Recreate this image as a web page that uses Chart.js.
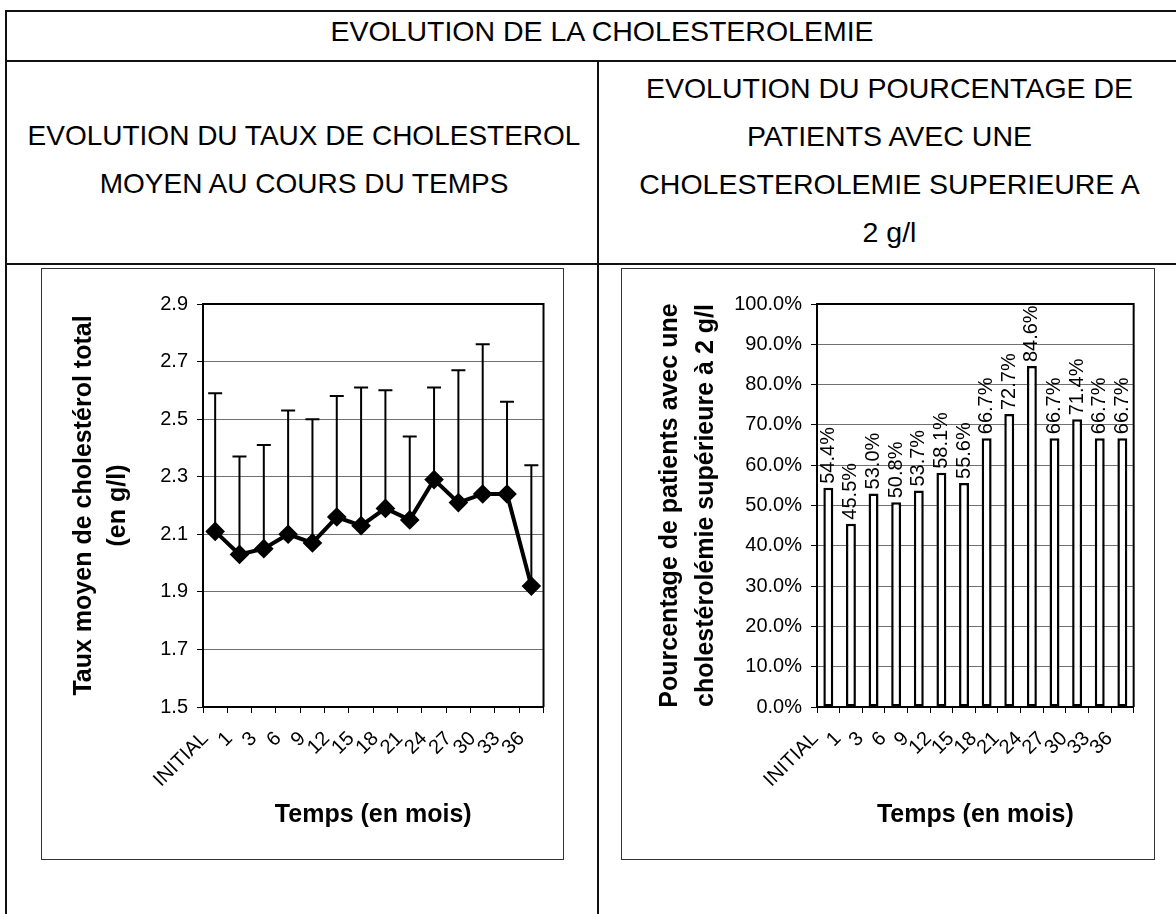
<!DOCTYPE html>
<html lang="fr">
<head>
<meta charset="utf-8">
<title>Evolution de la cholestérolémie</title>
<script src="https://cdn.jsdelivr.net/npm/chart.js@4.4.1/dist/chart.umd.min.js"></script>
<style>
  html, body { margin: 0; padding: 0; background: #fff; }
  body {
    width: 1176px; height: 914px; position: relative; overflow: hidden;
    font-family: "Liberation Sans", Arial, sans-serif; color: #000;
  }
  .rule { position: absolute; background: #111; }
  .cell-text { position: absolute; text-align: center; font-size: 28.5px; line-height: 48px; white-space: nowrap; }
  .frame { position: absolute; border: 1px solid #333; box-sizing: border-box; }
  .frame canvas { position: absolute; left: 0; top: 0; }
</style>
</head>
<body>
  <!-- table rules -->
  <div class="rule" style="left:5px; top:10px; width:1171px; height:2px"></div>
  <div class="rule" style="left:5px; top:60px; width:1171px; height:2px"></div>
  <div class="rule" style="left:5px; top:263px; width:1171px; height:2px"></div>
  <div class="rule" style="left:5px; top:10px; width:2px; height:904px"></div>
  <div class="rule" style="left:597px; top:60px; width:2px; height:854px"></div>

  <div class="cell-text" style="left:18px; top:12px; width:1168px; line-height:38px">EVOLUTION DE LA CHOLESTEROLEMIE</div>
  <div class="cell-text" style="left:9px; top:112px; width:590px; font-size:28px">EVOLUTION DU TAUX DE CHOLESTEROL<br>MOYEN AU COURS DU TEMPS</div>
  <div class="cell-text" style="left:601px; top:64px; width:577px">EVOLUTION DU POURCENTAGE DE<br>PATIENTS AVEC UNE<br>CHOLESTEROLEMIE SUPERIEURE A<br>2 g/l</div>

  <div class="frame" style="left:41px; top:268px; width:523px; height:592px">
    <canvas id="meanChart" width="521" height="590"></canvas>
  </div>
  <div class="frame" style="left:621px; top:268px; width:534px; height:592px">
    <canvas id="pctChart" width="532" height="590"></canvas>
  </div>

<script>
// time points (months)
const months = ['INITIAL', '1', '3', '6', '9', '12', '15', '18', '21', '24', '27', '30', '33', '36'];

// mean total cholesterol (g/l) and mean + SD (top of the error bar)
const meanLevel = [2.11, 2.03, 2.05, 2.10, 2.07, 2.16, 2.13, 2.19, 2.15, 2.29, 2.21, 2.24, 2.24, 1.92];
const meanPlusSd = [2.59, 2.37, 2.41, 2.53, 2.50, 2.58, 2.61, 2.60, 2.44, 2.61, 2.67, 2.76, 2.56, 2.34];

// % of patients above 2 g/l
const pctAbove2 = [54.4, 45.5, 53.0, 50.8, 53.7, 58.1, 55.6, 66.7, 72.7, 84.6, 66.7, 71.4, 66.7, 66.7];

const levelTicks = [1.5, 1.7, 1.9, 2.1, 2.3, 2.5, 2.7, 2.9];
const pctTicks = [0, 10, 20, 30, 40, 50, 60, 70, 80, 90, 100];

const FONT = '"Liberation Sans", Arial, sans-serif';
Chart.defaults.font.family = FONT;
Chart.defaults.color = '#000';

// black top and right edges of the plot area
const plotFrame = {
  id: 'plotFrame',
  beforeDatasetsDraw(chart) {
    const { ctx, chartArea: a } = chart;
    ctx.save();
    ctx.strokeStyle = '#000';
    ctx.lineWidth = 2;
    ctx.beginPath();
    ctx.moveTo(a.left, a.top);
    ctx.lineTo(a.right, a.top);
    ctx.lineTo(a.right, a.bottom);
    ctx.stroke();
    ctx.restore();
  }
};

// upward SD bars with a cap
const errorBars = {
  id: 'errorBars',
  beforeDatasetsDraw(chart) {
    const { ctx, scales: { x, y } } = chart;
    ctx.save();
    ctx.strokeStyle = '#000';
    ctx.lineWidth = 2;
    meanPlusSd.forEach((top, i) => {
      const px = x.getPixelForValue(i);
      const yMean = y.getPixelForValue(meanLevel[i]);
      const yTop = y.getPixelForValue(top);
      ctx.beginPath();
      ctx.moveTo(px, yMean);
      ctx.lineTo(px, yTop);
      ctx.moveTo(px - 7, yTop);
      ctx.lineTo(px + 7, yTop);
      ctx.stroke();
    });
    ctx.restore();
  }
};

// vertical value labels above each bar
const barValueLabels = {
  id: 'barValueLabels',
  afterDatasetsDraw(chart) {
    const { ctx } = chart;
    const meta = chart.getDatasetMeta(0);
    ctx.save();
    ctx.font = '20px ' + FONT;
    ctx.fillStyle = '#000';
    ctx.textAlign = 'left';
    ctx.textBaseline = 'middle';
    meta.data.forEach((bar, i) => {
      ctx.save();
      ctx.translate(bar.x, bar.y - 4);
      ctx.rotate(-Math.PI / 2);
      ctx.fillText(pctAbove2[i].toFixed(1) + '%', 0, 0);
      ctx.restore();
    });
    ctx.restore();
  }
};

function timeAxis(labelShift) {
  return {
    type: 'category',
    offset: true,
    grid: { offset: true, drawOnChartArea: false, tickLength: 6, tickColor: '#000' },
    border: { color: '#000', width: 2 },
    ticks: {
      autoSkip: false, minRotation: 45, maxRotation: 45,
      padding: 14, labelOffset: labelShift,
      font: { size: 20 }
    },
    title: {
      display: true, text: 'Temps (en mois)',
      font: { size: 25, weight: 'bold', lineHeight: 1.2 },
      padding: { top: 0, bottom: 29 }
    },
    afterFit(scale) { scale.height = 152; }
  };
}

// mean cholesterol over time
new Chart(document.getElementById('meanChart'), {
  type: 'line',
  data: {
    labels: months,
    datasets: [{
      data: meanLevel,
      borderColor: '#000',
      borderWidth: 4,
      pointStyle: 'rectRot',
      pointRadius: 7,
      pointBackgroundColor: '#000',
      pointBorderColor: '#000',
      tension: 0
    }]
  },
  options: {
    responsive: false,
    animation: false,
    devicePixelRatio: 1,
    layout: { padding: { left: 0, right: 19, top: 35, bottom: 0 } },
    plugins: { legend: { display: false }, tooltip: { enabled: false } },
    scales: {
      x: timeAxis(-10),
      y: {
        min: 1.5,
        max: 2.9,
        afterBuildTicks(scale) { scale.ticks = levelTicks.map(v => ({ value: v })); },
        grid: { color: '#707070', lineWidth: 1, tickLength: 6, tickColor: '#000' },
        border: { color: '#000', width: 2 },
        ticks: {
          padding: 9,
          font: { size: 20 },
          callback: (val) => Number(val).toFixed(1)
        },
        title: {
          display: true,
          text: ['Taux moyen de cholestérol total', '(en g/l)'],
          font: { size: 25, weight: 'bold', lineHeight: 1.36 },
          padding: { top: 25, bottom: 0 }
        },
        afterFit(scale) { scale.width = 161; }
      }
    }
  },
  plugins: [plotFrame, errorBars]
});

// share of patients above 2 g/l
new Chart(document.getElementById('pctChart'), {
  type: 'bar',
  data: {
    labels: months,
    datasets: [{
      data: pctAbove2,
      backgroundColor: '#fff',
      borderColor: '#000',
      borderWidth: 2.5,
      borderSkipped: false,
      barPercentage: 0.44,
      categoryPercentage: 1
    }]
  },
  options: {
    responsive: false,
    animation: false,
    devicePixelRatio: 1,
    layout: { padding: { left: 0, right: 19, top: 35, bottom: 0 } },
    plugins: { legend: { display: false }, tooltip: { enabled: false } },
    scales: {
      x: timeAxis(-13),
      y: {
        min: 0,
        max: 100,
        afterBuildTicks(scale) { scale.ticks = pctTicks.map(v => ({ value: v })); },
        grid: { color: '#707070', lineWidth: 1, tickLength: 6, tickColor: '#000' },
        border: { color: '#000', width: 2 },
        ticks: {
          padding: 9,
          font: { size: 20 },
          callback: (val) => Number(val).toFixed(1) + '%'
        },
        title: {
          display: true,
          text: ['Pourcentage de patients avec une', 'cholestérolémie supérieure à 2 g/l'],
          font: { size: 25, weight: 'bold', lineHeight: 1.44 },
          padding: { top: 30, bottom: 0 }
        },
        afterFit(scale) { scale.width = 195; }
      }
    }
  },
  plugins: [plotFrame, barValueLabels]
});
</script>
</body>
</html>
